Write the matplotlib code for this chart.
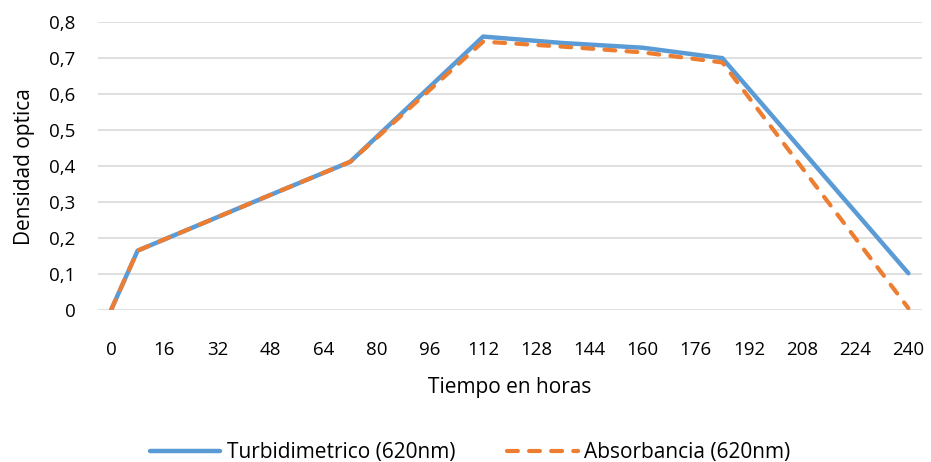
import matplotlib
matplotlib.use("Agg")
import matplotlib.pyplot as plt

plt.rcParams['font.family'] = ['Open Sans', 'DejaVu Sans']

hours = [0, 8, 48, 72, 112, 136, 160, 184, 240]
turbidimetrico = [0.0, 0.165, 0.32, 0.412, 0.760, 0.742, 0.729, 0.700, 0.102]
absorbancia = [0.0, 0.165, 0.32, 0.412, 0.746, 0.732, 0.716, 0.688, 0.005]
xticks = list(range(0, 241, 16))
yticks = [0, 0.1, 0.2, 0.3, 0.4, 0.5, 0.6, 0.7, 0.8]
ytick_labels = ["0", "0,1", "0,2", "0,3", "0,4", "0,5", "0,6", "0,7", "0,8"]

fig = plt.figure(figsize=(9.31, 4.62), dpi=100)
ax = fig.add_axes([0.105, 0.329, 0.885, 0.623])

ax.plot(hours, turbidimetrico, color="#5B9BD5", lw=3.2, solid_capstyle="round",
        solid_joinstyle="round", label="Turbidimetrico (620nm)", zorder=3)
ax.plot(hours, absorbancia, color="#ED7D31", lw=3.0, dashes=(2.6, 2.7),
        dash_capstyle="round", dash_joinstyle="round",
        label="Absorbancia (620nm)", zorder=4)

ax.set_xlim(-4, 244)
ax.set_ylim(0, 0.8)
ax.set_xticks(xticks)
ax.set_xticklabels([str(t) for t in xticks])
ax.set_yticks(yticks)
ax.set_yticklabels(ytick_labels)
ax.grid(axis="y", color="#d9d9d9", lw=1.2)
ax.set_axisbelow(True)
for s in ax.spines.values():
    s.set_visible(False)
ax.tick_params(axis="both", length=0, labelsize=13.5, colors="#000000")
ax.tick_params(axis="x", pad=22)
ax.tick_params(axis="y", pad=16)

ax.set_xlabel("Tiempo en horas", fontsize=15, labelpad=13)
ax.set_ylabel("Densidad optica", fontsize=15, labelpad=10)

fig.legend(loc="center", bbox_to_anchor=(0.505, 0.02), ncol=2, frameon=False,
           fontsize=15, handlelength=3.4, columnspacing=2.5, handletextpad=0.3)

fig.savefig("out.png", dpi=100)
